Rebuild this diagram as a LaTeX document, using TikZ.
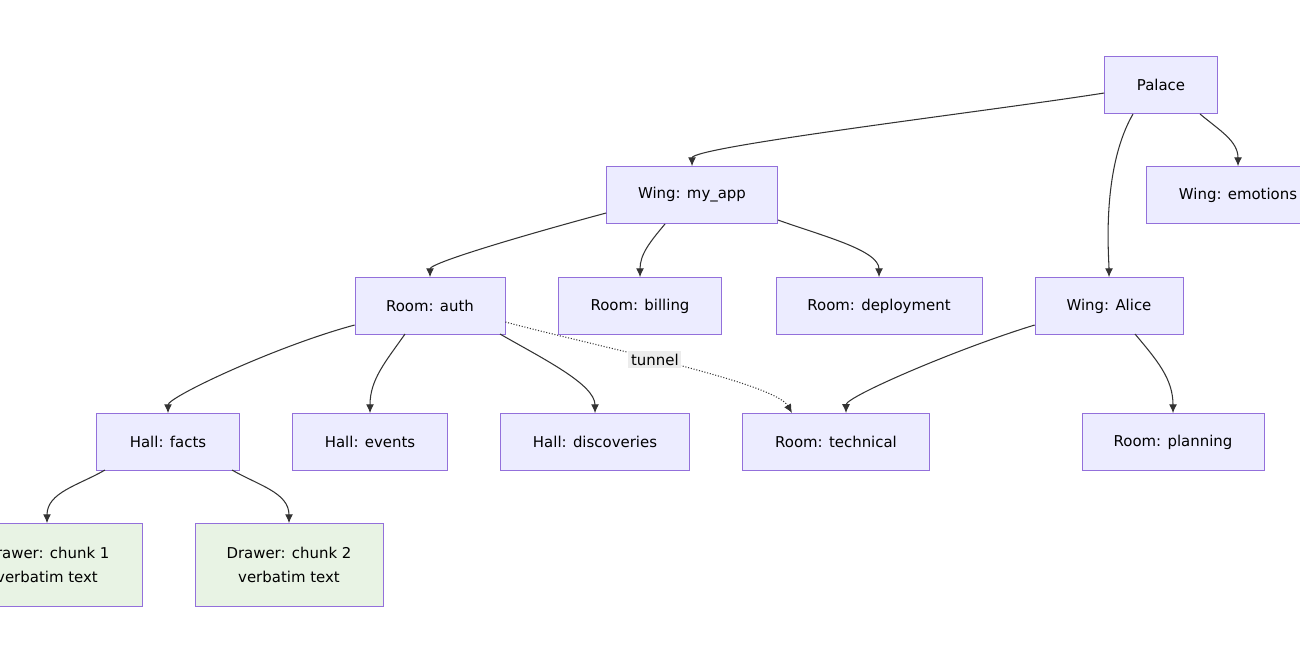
\documentclass[tikz,border=0pt]{standalone}
\usepackage{fontspec}
\setmainfont{DejaVu Sans}
\usetikzlibrary{arrows.meta}
\definecolor{boxfill}{HTML}{ECECFF}
\definecolor{boxline}{HTML}{9370DB}
\definecolor{leaffill}{HTML}{E8F3E4}
\definecolor{edge}{HTML}{333333}
\tikzset{
  box/.style={draw=boxline, fill=boxfill, align=center, inner sep=0pt, minimum height=1.14cm, font=\fontsize{8.5}{14}\selectfont},
  leaf/.style={box, fill=leaffill, minimum height=1.66cm},
  link/.style={draw=edge, line width=0.6pt, -{Latex[length=5pt,width=4.5pt]}},
  longlink/.style={link, out looseness=1, in looseness=0.2},
  tunnel/.style={link, densely dotted}
}
\begin{document}
\begin{tikzpicture}[x=0.02cm, y=-0.02cm]
    \useasboundingbox (0,0) rectangle (1300,650);
    \node [box, minimum width=2.26cm] (palace) at (1161,85) {Palace};
    \node [box, minimum width=3.42cm] (myapp) at (692,195) {Wing: my\_app};
    \node [box, minimum width=3.68cm] (emotions) at (1238,195) {Wing: emotions};
    \node [box, minimum width=3.00cm] (auth) at (430,306) {Room: auth};
    \node [box, minimum width=3.26cm] (billing) at (640,306) {Room: billing};
    \node [box, minimum width=4.12cm] (deploy) at (879,306) {Room: deployment};
    \node [box, minimum width=2.96cm] (alice) at (1109,306) {Wing: Alice};
    \node [box, minimum width=2.86cm] (facts) at (168,442) {Hall: facts};
    \node [box, minimum width=3.10cm] (events) at (370,442) {Hall: events};
    \node [box, minimum width=3.78cm] (discov) at (595,442) {Hall: discoveries};
    \node [box, minimum width=3.74cm] (technical) at (836,442) {Room: technical};
    \node [box, minimum width=3.64cm] (planning) at (1173,442) {Room: planning};
    \node [leaf, minimum width=3.80cm] (chunka) at (47,565) {Drawer: chunk 1\\verbatim text};
    \node [leaf, minimum width=3.76cm] (chunkb) at (289,565) {Drawer: chunk 2\\verbatim text};

    \draw[longlink] (palace.west |- 0,93) to[out=189, in=90, out looseness=0.7, in looseness=0.12] (myapp.north);
    \draw[link] (1133,114) to[out=-120, in=90, in looseness=0.3] (alice.north);
    \draw[link] (1200,114) to[out=-40, in=90] (emotions.north);
    \draw[longlink] (myapp.west |- 0,213) to[out=195, in=90] (auth.north);
    \draw[link] (665,224) to[out=-130, in=90] (billing.north);
    \draw[link] (778,220) to[out=-20, in=90, in looseness=0.6] (deploy.north);
    \draw[longlink] (auth.west |- 0,325) to[out=195, in=90] (facts.north);
    \draw[link] (405,334) to[out=-125, in=90] (events.north);
    \draw[link] (500,334) to[out=-30, in=90, in looseness=0.6] (discov.north);
    \draw[longlink] (alice.west |- 0,325) to[out=197, in=90] (846,413);
    \draw[link] (1135,334) to[out=-50, in=90] (planning.north);
    \draw[link] (105,470) to[out=-150, in=90] (chunka.north);
    \draw[link] (232,470) to[out=-30, in=90] (chunkb.north);
    \draw[tunnel] (auth.east |- 0,322) to[out=-15, in=120, out looseness=0.8, in looseness=0.3]
        node[pos=0.44, fill=gray!15, inner sep=1.5pt, font=\fontsize{8.5}{10}\selectfont] {tunnel} (792,413);
\end{tikzpicture}
\end{document}
